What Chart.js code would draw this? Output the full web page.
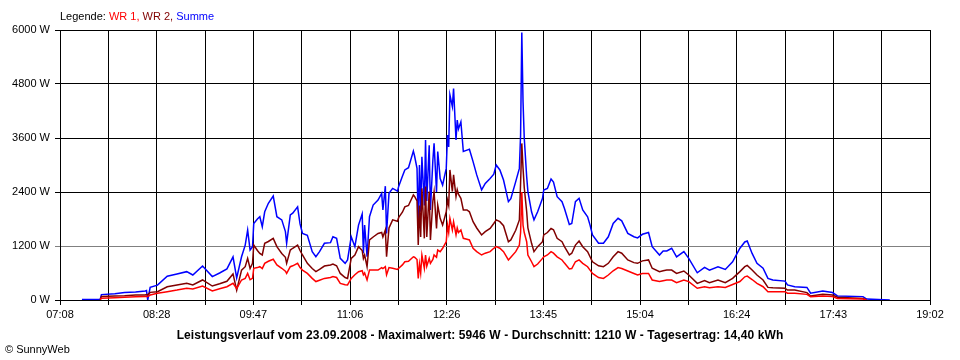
<!DOCTYPE html>
<html lang="de">
<head>
<meta charset="utf-8">
<title>Leistungsverlauf 23.09.2008</title>
<script src="https://cdn.jsdelivr.net/npm/chart.js@4.4.0/dist/chart.umd.min.js"></script>
<style>
  body { margin: 0; background: #fff; }
  #wrap { position: relative; width: 960px; height: 360px; font-family: "Liberation Sans", Arial, sans-serif; font-size: 11px; color: #000; }
  #chart { position: absolute; left: 0; top: 0; }
  .txt { position: absolute; white-space: nowrap; line-height: 13px; }
  #legende { left: 60px; top: 10px; }
  #titel { left: 0; width: 960px; text-align: center; top: 329px; font-weight: bold; font-size: 12px; letter-spacing: 0.1px; }
  #copy { left: 5px; top: 343px; }
</style>
</head>
<body>
<div id="wrap">
  <canvas id="chart" width="960" height="360"></canvas>
  <div class="txt" id="legende">Legende: <span style="color:#ff0000">WR 1,</span> <span style="color:#800000">WR 2,</span> <span style="color:#0000ff">Summe</span></div>
  <div class="txt" id="titel">Leistungsverlauf vom 23.09.2008 - Maximalwert: 5946 W - Durchschnitt: 1210 W - Tagesertrag: 14,40 kWh</div>
  <div class="txt" id="copy">&copy; SunnyWeb</div>
</div>
<script>
// Messzeitpunkte (Uhrzeit) und Leistung in W
const zeiten = [
  '07:26','07:41','07:42','07:53','08:01','08:10','08:18','08:19','08:20','08:22',
  '08:28','08:36','08:44','08:52','08:57','09:05','09:13','09:19','09:25','09:30',
  '09:33','09:37','09:40','09:42','09:44','09:46','09:47','09:50','09:52','09:54',
  '09:56','09:59','10:03','10:06','10:10','10:13','10:14','10:17','10:19','10:23',
  '10:25','10:27','10:31','10:35','10:38','10:41','10:45','10:50','10:52','10:55',
  '10:58','11:02','11:04','11:07','11:10','11:13','11:16','11:17','11:18','11:20',
  '11:22','11:25','11:29','11:32','11:33','11:35','11:36','11:38','11:41','11:45',
  '11:46','11:49','11:51','11:54','11:58','11:59','12:01','12:02','12:03','12:04',
  '12:05','12:07','12:08','12:09','12:11','12:12','12:14','12:15','12:17','12:18',
  '12:20','12:22','12:25','12:26','12:27','12:28','12:30','12:31','12:33','12:34',
  '12:35','12:37','12:39','12:42','12:44','12:47','12:50','12:54','12:57','13:01',
  '13:04','13:06','13:09','13:12','13:16','13:18','13:22','13:25','13:26','13:27',
  '13:28','13:29','13:31','13:32','13:35','13:37','13:40','13:44','13:45','13:48',
  '13:51','13:53','13:56','14:00','14:02','14:06','14:08','14:11','14:14','14:17',
  '14:21','14:23','14:25','14:30','14:34','14:38','14:42','14:46','14:49','14:54',
  '14:59','15:02','15:06','15:11','15:14','15:20','15:23','15:26','15:30','15:34',
  '15:40','15:44','15:51','15:57','16:01','16:08','16:14','16:20','16:26','16:30',
  '16:32','16:36','16:40','16:45','16:49','16:53','17:03','17:05','17:11','17:21',
  '17:24','17:34','17:42','17:46','18:07','18:10','18:29'
];

const wr1 = [
  null,5,40,50,60,70,80,80,80,110,
  150,185,220,260,245,310,200,250,295,370,
  255,445,480,590,450,480,705,720,740,700,
  815,860,905,780,705,640,590,740,760,815,
  720,665,590,480,410,440,480,500,520,500,
  370,340,335,480,560,630,650,560,600,445,
  665,665,665,720,700,740,560,720,705,680,
  705,780,850,860,960,950,900,480,800,600,
  1000,705,1000,750,925,815,900,1000,950,1110,
  1075,1150,1295,1665,1500,1815,1555,1740,1450,1600,
  1500,1555,1370,1350,1335,1150,1075,1000,1040,1075,
  1150,1185,1150,1075,890,950,1075,1220,1500,2400,
  1665,1500,1295,1000,850,740,800,925,960,1000,
  1075,1040,960,890,820,690,700,850,890,815,
  740,665,590,500,480,555,650,720,700,645,
  590,555,590,590,445,410,430,445,445,385,
  445,410,260,295,275,295,280,345,410,515,
  530,455,370,295,185,185,185,150,150,125,
  75,90,75,35,20,0,null
];

const wr2 = [
  null,5,80,90,95,110,110,120,115,170,
  185,295,335,370,335,445,310,360,415,580,
  220,665,740,925,700,815,1220,1100,1035,1000,
  1260,1300,1370,1185,1035,950,815,1110,1150,1220,
  1100,1000,815,700,630,680,755,780,800,760,
  590,500,480,925,1000,1185,1100,925,1000,740,
  1335,1400,1480,1500,1400,1555,960,1600,1780,1750,
  1835,1950,2070,2100,2335,2300,2200,1220,2100,1400,
  2480,1370,2520,1400,2410,1335,2200,2400,1590,2110,
  1815,1665,1960,2220,2100,2890,2410,2780,2300,2450,
  2350,2260,2000,2000,1960,1740,1600,1445,1520,1590,
  1700,1780,1740,1650,1295,1335,1550,1780,2600,3480,
  2930,2500,1960,1600,1260,1075,1185,1295,1445,1500,
  1590,1560,1370,1295,1185,1000,1040,1220,1310,1185,
  1075,960,850,760,740,815,960,1075,1040,890,
  830,815,870,890,705,630,650,665,665,590,
  645,555,370,430,385,445,385,480,630,740,
  770,665,555,445,280,270,260,220,220,165,
  90,130,110,60,35,0,null
];

const summe = [
  10,15,120,140,165,180,200,210,0,280,
  330,530,580,630,555,755,520,600,690,960,
  490,960,1220,1555,1110,1185,1700,1800,1850,1630,
  1960,2150,2310,1850,1780,1520,1260,1890,1930,2070,
  1690,1480,1440,1075,960,1075,1260,1275,1405,1370,
  925,815,890,1405,1185,1665,1910,1040,1665,960,
  1850,2110,2220,2370,2000,2530,1480,2370,2480,2420,
  2530,2750,2890,2940,3310,3200,2925,1665,3000,1960,
  3185,2100,3555,2200,3440,2000,3100,3480,2400,3300,
  2700,2555,2925,3665,3400,4555,4300,4700,3555,4000,
  3800,3960,3300,3330,3350,3075,2780,2445,2590,2700,
  2795,3000,2890,2665,2185,2250,2630,2925,3665,5946,
  4410,3600,2740,2410,1960,1780,1960,2260,2445,2480,
  2690,2620,2295,2185,2035,1680,1700,2185,2260,2000,
  1850,1665,1445,1260,1260,1405,1700,1815,1760,1480,
  1405,1380,1460,1500,1185,1000,1090,1090,1150,960,
  1075,925,605,725,665,740,680,850,1150,1290,
  1310,1035,815,705,480,445,420,335,295,280,
  150,200,165,90,75,20,0
];

// Beschriftung der senkrechten Gitterlinien (jede zweite Linie)
const xTickLabels = ['07:08','','08:28','','09:47','','11:06','','12:26','','13:45','','15:04','','16:24','','17:43','','19:02'];
const startMin = 7 * 60 + 8;
const endMin = 19 * 60 + 2;
const yMax = 6000;
const yStep = 1200;

function toMinutes(hhmm) {
    const [h, m] = hhmm.split(':').map(Number);
    return h * 60 + m;
}

function punkte(werte) {
    return zeiten.map((t, i) => ({ x: toMinutes(t), y: werte[i] }));
}

const schrift = { family: '"Liberation Sans", Arial, sans-serif', size: 11 };

const ctx = document.getElementById('chart').getContext('2d');
const leistungChart = new Chart(ctx, {
    type: 'line',
    data: {
        datasets: [
            { label: 'WR 1', data: punkte(wr1), borderColor: '#ff0000' },
            { label: 'WR 2', data: punkte(wr2), borderColor: '#800000' },
            { label: 'Summe', data: punkte(summe), borderColor: '#0000ff' }
        ]
    },
    options: {
        responsive: false,
        devicePixelRatio: 1,
        animation: false,
        layout: { padding: { top: 30, right: 30, left: 0, bottom: 0 } },
        elements: {
            line: { borderWidth: 1.5, tension: 0 },
            point: { radius: 0 }
        },
        plugins: {
            legend: { display: false },
            tooltip: { enabled: false }
        },
        scales: {
            x: {
                type: 'linear',
                min: startMin,
                max: endMin,
                afterBuildTicks: (scale) => {
                    const n = xTickLabels.length - 1;
                    scale.ticks = xTickLabels.map((_, i) => ({ value: startMin + i * (endMin - startMin) / n }));
                },
                afterFit: (scale) => { scale.height = 60; },
                ticks: {
                    autoSkip: false,
                    maxRotation: 0,
                    padding: 3,
                    color: '#000',
                    font: schrift,
                    callback: (value, index) => xTickLabels[index]
                },
                grid: { color: '#000', lineWidth: 1, tickLength: 5 },
                border: { display: true, color: '#000' }
            },
            y: {
                min: 0,
                max: yMax,
                afterFit: (scale) => { scale.width = 60; },
                ticks: {
                    stepSize: yStep,
                    padding: 5,
                    color: '#000',
                    font: schrift,
                    callback: (value) => value + ' W'
                },
                grid: {
                    color: (c) => (c.tick && c.tick.value === 1200 ? '#808080' : '#000'),
                    lineWidth: 1,
                    tickLength: 5
                },
                border: { display: true, color: '#000' }
            }
        }
    }
});
</script>
</body>
</html>
